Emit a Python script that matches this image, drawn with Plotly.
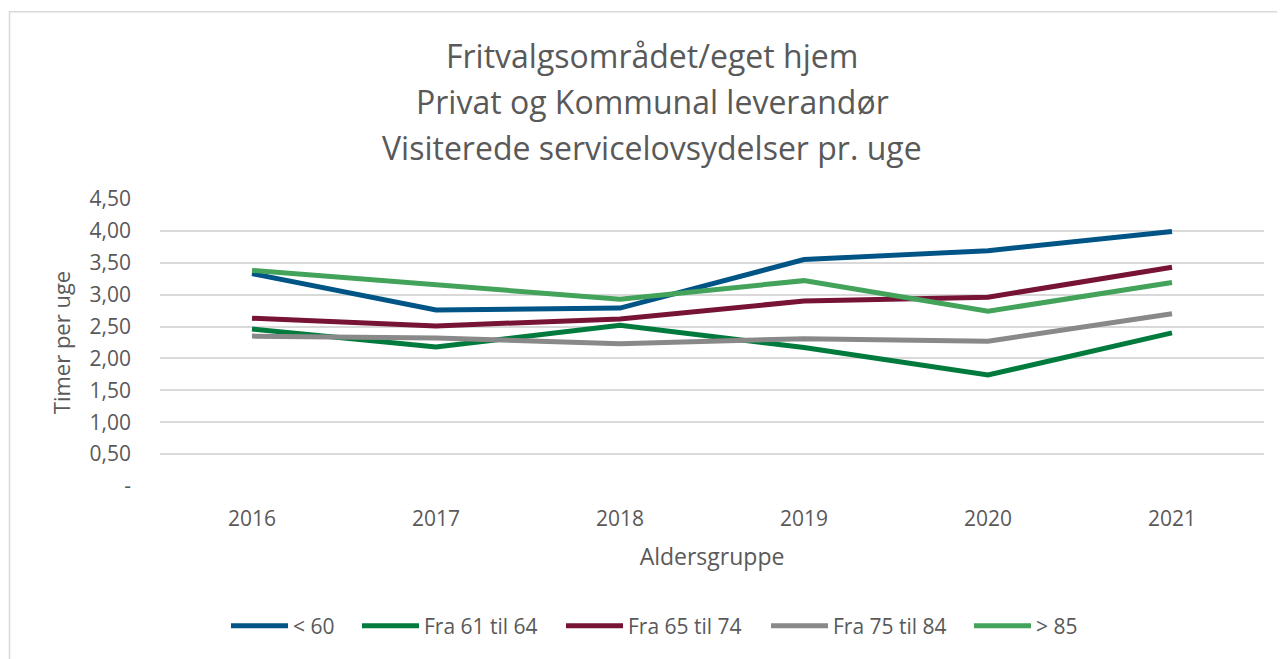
import plotly.graph_objects as go

years = ["2016", "2017", "2018", "2019", "2020", "2021"]
series_names = ["< 60", "Fra 61 til 64", "Fra 65 til 74", "Fra 75 til 84", "> 85"]
under_60 = [3.33, 2.76, 2.79, 3.55, 3.69, 3.99]
fra_61_64 = [2.46, 2.18, 2.52, 2.17, 1.74, 2.40]
fra_65_74 = [2.63, 2.51, 2.62, 2.90, 2.96, 3.43]
fra_75_84 = [2.35, 2.32, 2.23, 2.31, 2.27, 2.70]
over_85 = [3.38, 3.15, 2.93, 3.22, 2.74, 3.19]
y_tickvals = [0, 0.5, 1.0, 1.5, 2.0, 2.5, 3.0, 3.5, 4.0, 4.5]
y_ticktext = ["-", "0,50", "1,00", "1,50", "2,00", "2,50", "3,00", "3,50", "4,00", "4,50"]
title_lines = ["Fritvalgsområdet/eget hjem", "Privat og Kommunal leverandør",
               "Visiterede servicelovsydelser pr. uge"]

colors = ["#005486", "#007A3D", "#771335", "#898989", "#43A35A"]
all_values = [under_60, fra_61_64, fra_65_74, fra_75_84, over_85]
legend_symbol_x = [233, 364, 568, 773, 976]

FONT = "Open Sans"
TXT = "#595959"
OFF = 8  # page body margin offset

W, H = 1285 - OFF, 659 - OFF
L, T = 160 - OFF, 199 - OFF
plot_right, plot_bottom = 1264 - OFF, 488 - OFF
R, B = W - plot_right, H - plot_bottom
pw, ph = W - L - R, H - T - B

def px_x(px):
    return (px - OFF - L) / pw

def px_y(py):
    return (plot_bottom - (py - OFF)) / ph

fig = go.Figure()
legend_layouts = {}
for i, (name, vals, c) in enumerate(zip(series_names, all_values, colors)):
    lg = "legend" if i == 0 else f"legend{i + 1}"
    fig.add_trace(go.Scatter(x=years, y=vals, name=name, mode="lines",
                             line=dict(color=c, width=5), legend=lg))
    legend_layouts[lg] = dict(orientation="h", x=px_x(legend_symbol_x[i] - 7), xanchor="left",
                              y=px_y(629), yanchor="middle",
                              font=dict(family=FONT, size=21, color=TXT),
                              bgcolor="rgba(0,0,0,0)", itemwidth=57)

annotations = []
for line, ypx in zip(title_lines, [55, 101, 147]):
    annotations.append(dict(text=line, x=px_x(652), y=px_y(ypx),
                            xref="paper", yref="paper", showarrow=False,
                            xanchor="center", yanchor="middle",
                            font=dict(family=FONT, size=32, color=TXT)))

fig.update_layout(
    width=W, height=H,
    margin=dict(l=L, r=R, t=T, b=B),
    paper_bgcolor="white", plot_bgcolor="white",
    font=dict(family=FONT, color=TXT),
    annotations=annotations,
    showlegend=True,
    shapes=[dict(type="rect", xref="paper", yref="paper",
                 x0=px_x(9.5), x1=px_x(1300),
                 y0=px_y(700), y1=px_y(10.5),
                 line=dict(color="#D9D9D9", width=1.5), layer="below")],
    xaxis=dict(type="category", showgrid=False, showline=False, zeroline=False,
               ticks="", tickfont=dict(family=FONT, size=21, color=TXT),
               ticklabelstandoff=18,
               title=dict(text="Aldersgruppe", font=dict(family=FONT, size=23, color=TXT),
                          standoff=17),
               range=[-0.5, 5.5]),
    yaxis=dict(range=[0, 4.5], tickvals=y_tickvals, ticktext=y_ticktext,
               showgrid=True, gridcolor="#D9D9D9", gridwidth=1.5,
               zeroline=False, showline=False, ticks="",
               tickfont=dict(family=FONT, size=21, color=TXT),
               ticklabelstandoff=28,
               title=dict(text="Timer per uge", font=dict(family=FONT, size=22, color=TXT),
                          standoff=12)),
    **legend_layouts,
)

fig.write_html("out.html")
